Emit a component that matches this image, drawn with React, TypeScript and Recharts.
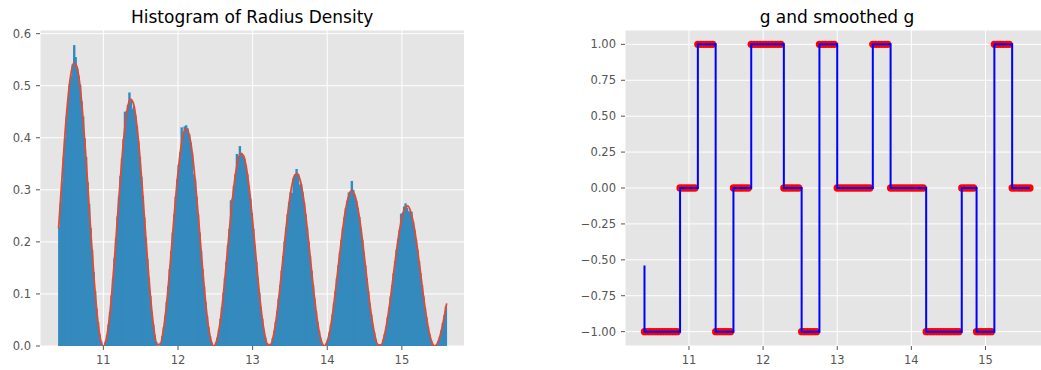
import React from "react";
import {
  ComposedChart,
  Bar,
  Line,
  Scatter,
  XAxis,
  YAxis,
  CartesianGrid
} from "recharts";

const FONT = "DejaVu Sans";
const TICK_COLOR = "#555555";
const PANEL_BG = "#E5E5E5";

// histogram of radius: 260 bins, 0.02 wide, first edge at 10.40
const BIN_START = 10.4;
const BIN_WIDTH = 0.02;
const density = [
  // 10.40 - 11.00
  0.228, 0.274, 0.316, 0.363, 0.400, 0.441, 0.476, 0.503, 0.519, 0.541,
  0.578, 0.555, 0.533, 0.519, 0.502, 0.470, 0.441, 0.399, 0.363, 0.315,
  0.273, 0.227, 0.185, 0.142, 0.106, 0.072, 0.046, 0.023, 0.009, 0.001,
  // 11.00 - 11.74
  0.001, 0.008, 0.021, 0.041, 0.066, 0.097, 0.130, 0.169, 0.207, 0.249,
  0.287, 0.327, 0.361, 0.397, 0.450, 0.451, 0.463, 0.487, 0.472, 0.455,
  0.460, 0.443, 0.423, 0.393, 0.363, 0.325, 0.288, 0.247, 0.208, 0.167,
  0.131, 0.096, 0.066, 0.041, 0.021, 0.008, 0.001,
  // 11.74 - 12.48
  0.001, 0.007, 0.019, 0.036, 0.058, 0.085, 0.115, 0.148, 0.183, 0.218,
  0.253, 0.287, 0.320, 0.348, 0.372, 0.420, 0.405, 0.422, 0.424, 0.418,
  0.407, 0.391, 0.370, 0.330, 0.320, 0.287, 0.253, 0.218, 0.183, 0.148,
  0.115, 0.085, 0.058, 0.036, 0.019, 0.007, 0.001,
  // 12.48 - 13.22
  0.001, 0.006, 0.016, 0.032, 0.052, 0.075, 0.102, 0.131, 0.162, 0.194,
  0.225, 0.280, 0.283, 0.308, 0.330, 0.369, 0.362, 0.384, 0.371, 0.366,
  0.360, 0.348, 0.330, 0.308, 0.283, 0.255, 0.225, 0.193, 0.162, 0.131,
  0.102, 0.075, 0.052, 0.032, 0.016, 0.006, 0.001,
  // 13.22 - 13.96
  0.001, 0.005, 0.015, 0.029, 0.046, 0.067, 0.091, 0.117, 0.145, 0.173,
  0.201, 0.228, 0.253, 0.276, 0.295, 0.294, 0.322, 0.330, 0.340, 0.330,
  0.310, 0.311, 0.295, 0.276, 0.253, 0.228, 0.201, 0.173, 0.145, 0.117,
  0.091, 0.067, 0.046, 0.029, 0.015, 0.005, 0.001,
  // 13.96 - 14.70
  0.001, 0.005, 0.013, 0.026, 0.041, 0.060, 0.082, 0.105, 0.130, 0.155,
  0.180, 0.204, 0.227, 0.247, 0.265, 0.279, 0.295, 0.296, 0.317, 0.300,
  0.289, 0.279, 0.265, 0.248, 0.227, 0.204, 0.180, 0.155, 0.130, 0.105,
  0.082, 0.060, 0.041, 0.026, 0.013, 0.005, 0.001,
  // 14.70 - 15.44
  0.001, 0.004, 0.012, 0.023, 0.037, 0.055, 0.074, 0.095, 0.117, 0.140,
  0.163, 0.185, 0.205, 0.223, 0.254, 0.256, 0.268, 0.274, 0.266, 0.259,
  0.258, 0.258, 0.239, 0.223, 0.205, 0.185, 0.163, 0.140, 0.117, 0.095,
  0.074, 0.055, 0.037, 0.023, 0.012, 0.004, 0.001,
  // 15.44 - 15.60
  0.000, 0.003, 0.010, 0.018, 0.030, 0.044, 0.059, 0.076
];

// fitted density, g and smoothed g, sampled every 0.04 from 10.40 to 15.60
const SAMPLE_START = 10.4;
const SAMPLE_STEP = 0.04;
const fitted = [
  0.226, 0.311, 0.396, 0.467, 0.518, 0.543, 0.539, 0.508, 0.451, 0.375,
  0.289, 0.201, 0.121, 0.056, 0.014, 0.000,
  0.014, 0.053, 0.113, 0.188, 0.268, 0.344, 0.409, 0.454, 0.474, 0.467,
  0.434, 0.379, 0.307, 0.227, 0.149, 0.081, 0.030, 0.003,
  0.003, 0.027, 0.071, 0.131, 0.200, 0.270, 0.333, 0.382, 0.411, 0.417,
  0.399, 0.360, 0.303, 0.236, 0.165, 0.099, 0.046, 0.012, 0.000,
  0.011, 0.041, 0.088, 0.147, 0.209, 0.269, 0.319, 0.355, 0.370, 0.365,
  0.339, 0.296, 0.240, 0.178, 0.116, 0.063, 0.024, 0.003,
  0.002, 0.021, 0.056, 0.104, 0.159, 0.215, 0.265, 0.304, 0.327, 0.331,
  0.317, 0.286, 0.241, 0.187, 0.131, 0.079, 0.037, 0.010, 0.000,
  0.009, 0.033, 0.071, 0.118, 0.168, 0.216, 0.257, 0.285, 0.298, 0.293,
  0.272, 0.238, 0.193, 0.143, 0.093, 0.051, 0.019, 0.002,
  0.002, 0.017, 0.046, 0.084, 0.129, 0.174, 0.215, 0.246, 0.265, 0.269,
  0.257, 0.232, 0.195, 0.152, 0.106, 0.064, 0.030, 0.008, 0.000,
  0.006, 0.024, 0.051, 0.082
];

const g = [
  -1, -1, -1, -1, -1, -1, -1, -1, -1, -1, -1, -1,
  0, 0, 0, 0, 0, 0,
  1, 1, 1, 1, 1, 1,
  -1, -1, -1, -1, -1, -1,
  0, 0, 0, 0, 0, 0,
  1, 1, 1, 1, 1, 1, 1, 1, 1, 1, 1,
  0, 0, 0, 0, 0, 0,
  -1, -1, -1, -1, -1, -1,
  1, 1, 1, 1, 1, 1,
  0, 0, 0, 0, 0, 0, 0, 0, 0, 0, 0, 0,
  1, 1, 1, 1, 1, 1,
  0, 0, 0, 0, 0, 0, 0, 0, 0, 0, 0, 0,
  -1, -1, -1, -1, -1, -1, -1, -1, -1, -1, -1, -1,
  0, 0, 0, 0, 0,
  -1, -1, -1, -1, -1, -1,
  1, 1, 1, 1, 1, 1,
  0, 0, 0, 0, 0, 0, 0
];

const smoothedG = [
  -0.54,
  -1, -1, -1, -1, -1, -1, -1, -1, -1, -1, -1, -1,
  0, 0, 0, 0, 0, 0,
  1, 1, 1, 1, 1, 1,
  -1, -1, -1, -1, -1, -1,
  0, 0, 0, 0, 0, 0,
  1, 1, 1, 1, 1, 1, 1, 1, 1, 1, 1,
  0, 0, 0, 0, 0, 0,
  -1, -1, -1, -1, -1, -1,
  1, 1, 1, 1, 1, 1,
  0, 0, 0, 0, 0, 0, 0, 0, 0, 0, 0, 0,
  1, 1, 1, 1, 1, 1,
  0, 0, 0, 0, 0, 0, 0, 0, 0, 0, 0, 0,
  -1, -1, -1, -1, -1, -1, -1, -1, -1, -1, -1, -1,
  0, 0, 0, 0, 0,
  -1, -1, -1, -1, -1, -1,
  1, 1, 1, 1, 1, 1,
  0, 0, 0, 0, 0, 0
];

const xTicks = [11, 12, 13, 14, 15];
const densityTicks = [0, 0.1, 0.2, 0.3, 0.4, 0.5, 0.6];
const gTicks = [-1, -0.75, -0.5, -0.25, 0, 0.25, 0.5, 0.75, 1];

const histRows = density.map((d, i) => ({
  x: +(BIN_START + BIN_WIDTH * (i + 0.5)).toFixed(3),
  density: d
}));

const sampleRows = fitted.map((f, i) => ({
  x: +(SAMPLE_START + SAMPLE_STEP * i).toFixed(3),
  fit: f,
  g: g[i],
  smoothed: smoothedG[i]
}));

const tickStyle = { fill: TICK_COLOR, fontSize: 11.5, fontFamily: FONT };
const minus = (s: string) => s.replace("-", "\u2212");

const RedDot = (props: any) => (
  <circle cx={props.cx} cy={props.cy} r={3.65} fill="#FF0000" />
);

// each bin is drawn a little wider than its slot so neighbours overlap
const HIST_BAR_PX = 2.4;
const HistBar = (props: any) => {
  const { x, y, width, height } = props;
  if (!height || height <= 0) return null;
  const cx = x + width / 2;
  return (
    <rect
      x={cx - HIST_BAR_PX / 2}
      y={y}
      width={HIST_BAR_PX}
      height={height}
      fill="#348ABD"
    />
  );
};

function HistogramPanel() {
  return (
    <ComposedChart
      width={470}
      height={370}
      data={histRows}
      margin={{ top: 30, right: 5.5, bottom: 0, left: 0 }}
    >
      <CartesianGrid fill={PANEL_BG} stroke="#FFFFFF" strokeWidth={1} />
      <XAxis
        dataKey="x"
        type="number"
        domain={[10.151, 15.839]}
        allowDataOverflow
        ticks={xTicks}
        interval={0}
        height={24}
        axisLine={false}
        tickSize={4}
        tickMargin={6}
        tickLine={{ stroke: TICK_COLOR }}
        tick={tickStyle}
      />
      <YAxis
        type="number"
        domain={[0, 0.607]}
        allowDataOverflow
        ticks={densityTicks}
        interval={0}
        width={40}
        axisLine={false}
        tickSize={4}
        tickMargin={5}
        tickLine={{ stroke: TICK_COLOR }}
        tick={tickStyle}
        tickFormatter={(v: number) => v.toFixed(1)}
      />
      <Bar
        dataKey="density"
        fill="#348ABD"
        barSize={1.49}
        shape={HistBar}
        isAnimationActive={false}
      />
      <Line
        data={sampleRows}
        dataKey="fit"
        type="monotone"
        stroke="#E24A33"
        strokeWidth={1.8}
        dot={false}
        activeDot={false}
        isAnimationActive={false}
      />
    </ComposedChart>
  );
}

function GPanel() {
  return (
    <ComposedChart
      width={480}
      height={370}
      data={sampleRows}
      margin={{ top: 30, right: 1, bottom: 0, left: 0 }}
    >
      <CartesianGrid fill={PANEL_BG} stroke="#FFFFFF" strokeWidth={1} />
      <XAxis
        dataKey="x"
        type="number"
        domain={[10.137, 15.857]}
        allowDataOverflow
        ticks={xTicks}
        interval={0}
        height={24}
        axisLine={false}
        tickSize={4}
        tickMargin={6}
        tickLine={{ stroke: TICK_COLOR }}
        tick={tickStyle}
      />
      <YAxis
        type="number"
        domain={[-1.1, 1.1]}
        allowDataOverflow
        ticks={gTicks}
        interval={0}
        width={55}
        axisLine={false}
        tickSize={4}
        tickMargin={5}
        tickLine={{ stroke: TICK_COLOR }}
        tick={tickStyle}
        tickFormatter={(v: number) => minus(v.toFixed(2))}
      />
      <Scatter dataKey="g" fill="#FF0000" shape={RedDot} isAnimationActive={false} />
      <Line
        dataKey="smoothed"
        type="stepBefore"
        stroke="#0000FF"
        strokeWidth={2}
        dot={false}
        activeDot={false}
        isAnimationActive={false}
        zIndex={700}
      />
    </ComposedChart>
  );
}

export default function App() {
  return (
    <div
      style={{
        position: "fixed",
        left: 0,
        top: 0,
        width: 1041,
        height: 370,
        overflow: "hidden",
        background: "#FFFFFF"
      }}
    >
      <div style={{ position: "absolute", left: 0, top: 0 }}>
        <HistogramPanel />
      </div>
      <div style={{ position: "absolute", left: 570, top: 0 }}>
        <GPanel />
      </div>
      <svg
        width={1041}
        height={30}
        style={{ position: "absolute", left: 0, top: 0 }}
      >
        <text x={252.2} y={22.5} textAnchor="middle" fontFamily={FONT} fontSize={17} fill="#000000">
          Histogram of Radius Density
        </text>
        <text x={837} y={22.5} textAnchor="middle" fontFamily={FONT} fontSize={17} fill="#000000">
          g and smoothed g
        </text>
      </svg>
    </div>
  );
}
